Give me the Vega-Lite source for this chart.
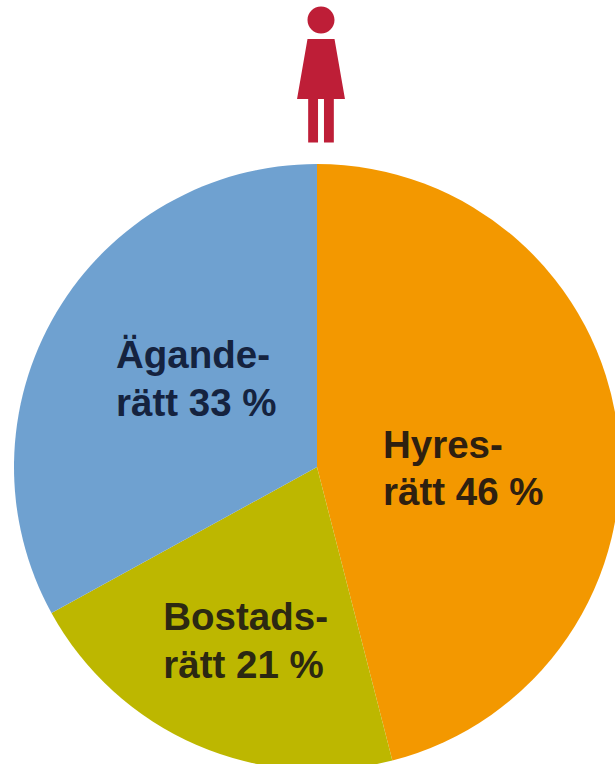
{
  "$schema": "https://vega.github.io/schema/vega-lite/v6.json",
  "width": 600,
  "height": 594,
  "autosize": {"type": "none"},
  "padding": {"left": 17, "top": 170, "right": 0, "bottom": 0},
  "background": "white",
  "view": {"stroke": null},
  "data": {"values": [
    {"upplatelse": "Hyresrätt", "rank": 1, "andel": 46, "etikett": "Hyres-\nrätt 46 %"},
    {"upplatelse": "Bostadsrätt", "rank": 2, "andel": 21, "etikett": "Bostads-\nrätt 21 %"},
    {"upplatelse": "Äganderätt", "rank": 3, "andel": 33, "etikett": "Ägande-\nrätt 33 %"}
  ]},
  "transform": [
    {"stack": "andel", "sort": [{"field": "rank", "order": "ascending"}], "as": ["s0", "s1"]}
  ],
  "layer": [
    {
      "mark": {"type": "arc", "outerRadius": 303},
      "encoding": {
        "theta": {"field": "s0", "type": "quantitative", "scale": {"domain": [0, 100]}},
        "theta2": {"field": "s1"},
        "color": {
          "field": "upplatelse",
          "type": "nominal",
          "legend": null,
          "scale": {"domain": ["Hyresrätt", "Bostadsrätt", "Äganderätt"], "range": ["#F39800", "#BDB700", "#6FA1D0"]}
        }
      }
    },
    {
      "transform": [{"filter": "datum.rank === 1"}],
      "mark": {"type": "text", "align": "left", "baseline": "middle", "lineBreak": "\n", "lineHeight": 47, "font": "Liberation Sans", "fontWeight": "bold", "fontSize": 38.5, "color": "#2E2010", "radius": 70, "dx": 66, "dy": 48.5},
      "encoding": {
        "theta": {"field": "s0", "type": "quantitative", "scale": {"domain": [0, 100]}},
        "text": {"field": "etikett"}
      }
    },
    {
      "transform": [{"filter": "datum.rank === 2"}],
      "mark": {"type": "text", "align": "left", "baseline": "middle", "lineBreak": "\n", "lineHeight": 48, "font": "Liberation Sans", "fontWeight": "bold", "fontSize": 38.5, "color": "#2C2812", "radius": 190, "dx": -201, "dy": -33},
      "encoding": {
        "theta": {"field": "s0", "type": "quantitative", "scale": {"domain": [0, 100]}},
        "text": {"field": "etikett"}
      }
    },
    {
      "transform": [{"filter": "datum.rank === 3"}],
      "mark": {"type": "text", "align": "left", "baseline": "middle", "lineBreak": "\n", "lineHeight": 48, "font": "Liberation Sans", "fontWeight": "bold", "fontSize": 38.5, "color": "#15233F", "radius": 175, "dx": -47.6, "dy": -195},
      "encoding": {
        "theta": {"field": "s0", "type": "quantitative", "scale": {"domain": [0, 100]}},
        "text": {"field": "etikett"}
      }
    },
    {
      "data": {"values": [{"figur": "kvinna"}]},
      "mark": {
        "type": "point",
        "filled": true,
        "opacity": 1,
        "color": "#BE1E37",
        "size": 18225,
        "xOffset": 4,
        "yOffset": -392,
        "shape": "M-0.2,-0.815 A0.2,0.2 0 1 1 0.2,-0.815 A0.2,0.2 0 1 1 -0.2,-0.815 Z M-0.2,-0.533 L0.2,-0.533 L0.355,0.356 L0.19,0.356 L0.19,1 L0.044,1 L0.044,0.356 L-0.044,0.356 L-0.044,1 L-0.19,1 L-0.19,0.356 L-0.355,0.356 Z"
      },
      "encoding": {}
    }
  ]
}
